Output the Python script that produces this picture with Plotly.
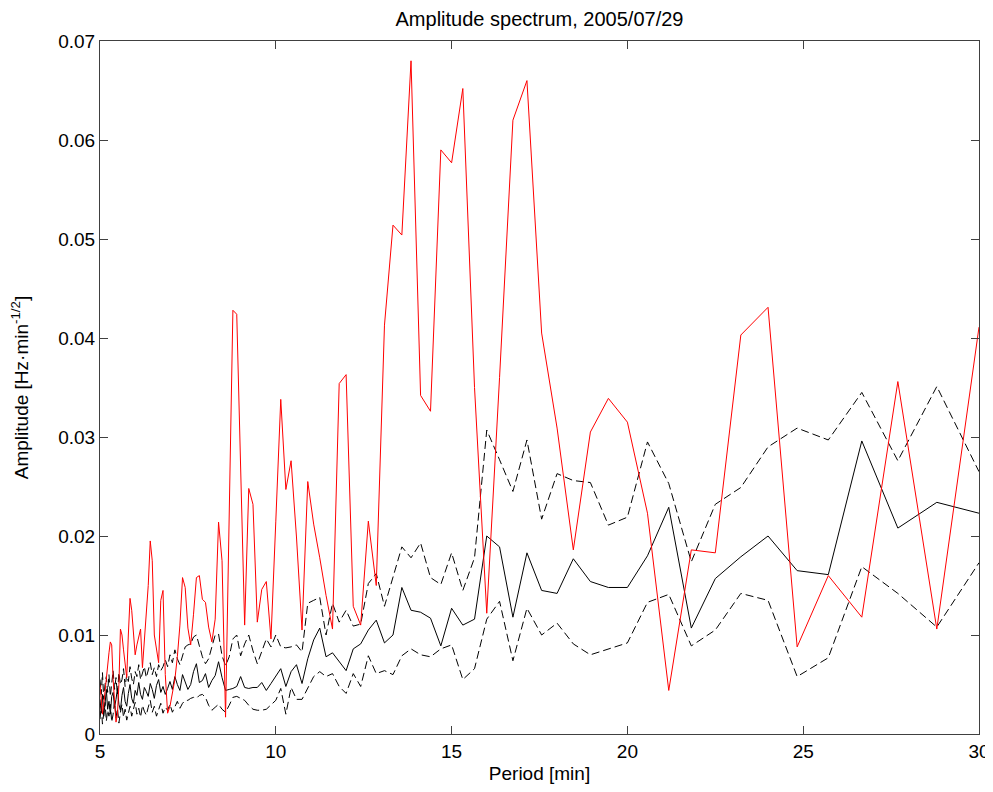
import plotly.graph_objects as go

# Period grid [min] (ascending)
period = [5.000, 5.035, 5.070, 5.106, 5.143, 5.180, 5.217, 5.255, 5.294, 5.333,
          5.373, 5.414, 5.455, 5.496, 5.538, 5.581, 5.625, 5.669, 5.714, 5.760,
          5.806, 5.854, 5.902, 5.950, 6.000, 6.050, 6.102, 6.154, 6.207, 6.261,
          6.316, 6.372, 6.429, 6.486, 6.545, 6.606, 6.667, 6.729, 6.792, 6.857,
          6.923, 6.990, 7.059, 7.129, 7.200, 7.273, 7.347, 7.423, 7.500, 7.579,
          7.660, 7.742, 7.826, 7.912, 8.000, 8.090, 8.182, 8.276, 8.372, 8.471,
          8.571, 8.675, 8.780, 8.889, 9.000, 9.114, 9.231, 9.351, 9.474, 9.600,
          9.730, 9.863, 10.000, 10.141, 10.286, 10.435, 10.588, 10.746, 10.909, 11.077,
          11.250, 11.429, 11.613, 11.803, 12.000, 12.203, 12.414, 12.632, 12.857, 13.091,
          13.333, 13.585, 13.846, 14.118, 14.400, 14.694, 15.000, 15.319, 15.652, 16.000,
          16.364, 16.744, 17.143, 17.561, 18.000, 18.462, 18.947, 19.459, 20.000, 20.571,
          21.176, 21.818, 22.500, 23.226, 24.000, 24.828, 25.714, 26.667, 27.692, 28.800,
          30.000]

# Observed amplitude spectrum (red)
amp_observed = [0.0050, 0.0030, 0.0020, 0.0030, 0.0044, 0.0055, 0.0070, 0.0082, 0.0093, 0.0090,
                0.0055, 0.0035, 0.0012, 0.0020, 0.0050, 0.0106, 0.0100, 0.0085, 0.0070, 0.0057,
                0.0100, 0.0137, 0.0125, 0.0105, 0.0080, 0.0090, 0.0098, 0.0106, 0.0067, 0.0095,
                0.0128, 0.0150, 0.0195, 0.0175, 0.0100, 0.0085, 0.0072, 0.0135, 0.0145, 0.0060,
                0.0021, 0.0028, 0.0040, 0.0055, 0.0078, 0.0110, 0.0158, 0.0148, 0.0107, 0.0090,
                0.0121, 0.0158, 0.0160, 0.0136, 0.0133, 0.0108, 0.0093, 0.0116, 0.0214, 0.0175,
                0.0017, 0.0220, 0.0428, 0.0424, 0.0260, 0.0110, 0.0248, 0.0232, 0.0113, 0.0146,
                0.0154, 0.0096, 0.0215, 0.0338, 0.0247, 0.0276, 0.0199, 0.0105, 0.0255, 0.0212,
                0.0178, 0.0140, 0.0106, 0.0354, 0.0363, 0.0129, 0.0110, 0.0215, 0.0150, 0.0413,
                0.0514, 0.0504, 0.0680, 0.0342, 0.0326, 0.0590, 0.0577, 0.0652, 0.0350, 0.0122,
                0.0360, 0.0620, 0.0660, 0.0405, 0.0309, 0.0186, 0.0305, 0.0339, 0.0315, 0.0223,
                0.0044, 0.0186, 0.0183, 0.0403, 0.0431, 0.0088, 0.0160, 0.0118, 0.0356, 0.0106,
                0.0411]

# Mean spectrum (black solid)
amp_mean = [0.0035, 0.0022, 0.0040, 0.0018, 0.0030, 0.0045, 0.0025, 0.0033, 0.0020, 0.0038,
            0.0042, 0.0027, 0.0035, 0.0046, 0.0030, 0.0024, 0.0039, 0.0047, 0.0033, 0.0028,
            0.0041, 0.0050, 0.0036, 0.0031, 0.0044, 0.0039, 0.0052, 0.0040, 0.0035, 0.0047,
            0.0043, 0.0038, 0.0051, 0.0045, 0.0036, 0.0049, 0.0055, 0.0042, 0.0048, 0.0040,
            0.0046, 0.0053, 0.0045, 0.0058, 0.0050, 0.0044, 0.0060, 0.0052,
            0.0045, 0.0050,
            0.0063, 0.0071, 0.0052, 0.0054, 0.0061, 0.0047, 0.0054, 0.0059, 0.0073, 0.0057,
            0.0044, 0.0045, 0.0046, 0.0048, 0.0058, 0.0047, 0.0046, 0.0047, 0.0047, 0.0052,
            0.0044, 0.0051, 0.0058, 0.0066, 0.0048, 0.0063, 0.0070, 0.0051, 0.0076, 0.0095,
            0.0107, 0.0078, 0.0082, 0.0073, 0.0064, 0.0086, 0.0091, 0.0105, 0.0115, 0.0092,
            0.0100, 0.0148, 0.0125, 0.0123, 0.0117, 0.0089, 0.0127, 0.0110, 0.0116, 0.0200,
            0.0189, 0.0118, 0.0183, 0.0145, 0.0142, 0.0177, 0.0154, 0.0148, 0.0148, 0.0180,
            0.0229, 0.0107, 0.0157, 0.0179, 0.0200, 0.0165, 0.0161, 0.0296, 0.0208, 0.0234,
            0.0223]

# Upper bound (black dashed)
amp_upper = [0.0055, 0.0040, 0.0062, 0.0035, 0.0050, 0.0058, 0.0042, 0.0060, 0.0038, 0.0052,
             0.0064, 0.0045, 0.0057, 0.0040, 0.0062, 0.0050, 0.0055, 0.0066, 0.0048, 0.0060,
             0.0053, 0.0068, 0.0056, 0.0050, 0.0063, 0.0058, 0.0070, 0.0055, 0.0062, 0.0068,
             0.0057, 0.0065, 0.0072, 0.0060, 0.0067, 0.0058, 0.0070, 0.0064, 0.0068, 0.0075,
             0.0068, 0.0080, 0.0072, 0.0085, 0.0076, 0.0070, 0.0080, 0.0088,
             0.0090, 0.0091,
             0.0098, 0.0100, 0.0089, 0.0078, 0.0071, 0.0076, 0.0088, 0.0100, 0.0101, 0.0079,
             0.0069, 0.0078, 0.0096, 0.0100, 0.0079, 0.0091, 0.0100, 0.0084, 0.0071, 0.0083,
             0.0096, 0.0088, 0.0100, 0.0088, 0.0087, 0.0088, 0.0090, 0.0083, 0.0132, 0.0135,
             0.0138, 0.0100, 0.0132, 0.0113, 0.0125, 0.0109, 0.0111, 0.0152, 0.0162, 0.0129,
             0.0158, 0.0189, 0.0178, 0.0193, 0.0158, 0.0151, 0.0183, 0.0145, 0.0178, 0.0307,
             0.0277, 0.0245, 0.0297, 0.0217, 0.0263, 0.0256, 0.0254, 0.0211, 0.0219, 0.0295,
             0.0253, 0.0174, 0.0232, 0.0249, 0.0290, 0.0309, 0.0297, 0.0345, 0.0276, 0.0351,
             0.0265]

# Lower bound (black dashed)
amp_lower = [0.0015, 0.0028, 0.0010, 0.0022, 0.0032, 0.0013, 0.0024, 0.0018, 0.0030, 0.0012,
             0.0020, 0.0033, 0.0016, 0.0026, 0.0011, 0.0022, 0.0030, 0.0017, 0.0025, 0.0014,
             0.0021, 0.0028, 0.0018, 0.0024, 0.0032, 0.0020, 0.0026, 0.0017, 0.0029, 0.0023,
             0.0019, 0.0027, 0.0034, 0.0022, 0.0028, 0.0018, 0.0025, 0.0031, 0.0021, 0.0027,
             0.0024, 0.0030, 0.0022, 0.0028, 0.0033, 0.0026, 0.0031, 0.0034,
             0.0034, 0.0036,
             0.0037, 0.0036, 0.0039, 0.0040, 0.0037, 0.0029, 0.0024, 0.0027, 0.0030, 0.0025,
             0.0022, 0.0029, 0.0037, 0.0038, 0.0036, 0.0034, 0.0029, 0.0025, 0.0024, 0.0024,
             0.0025, 0.0029, 0.0034, 0.0046, 0.0020, 0.0047, 0.0035, 0.0035, 0.0047, 0.0058,
             0.0063, 0.0058, 0.0061, 0.0048, 0.0041, 0.0061, 0.0048, 0.0079, 0.0061, 0.0064,
             0.0060, 0.0079, 0.0086, 0.0080, 0.0078, 0.0086, 0.0090, 0.0055, 0.0066, 0.0116,
             0.0134, 0.0074, 0.0127, 0.0100, 0.0112, 0.0091, 0.0080, 0.0086, 0.0092, 0.0133,
             0.0141, 0.0089, 0.0105, 0.0142, 0.0135, 0.0058, 0.0077, 0.0169, 0.0142, 0.0108,
             0.0173]

assert len(period) == len(amp_observed) == len(amp_mean) == len(amp_upper) == len(amp_lower)

x_ticks = [5, 10, 15, 20, 25, 30]
y_ticks = [0, 0.01, 0.02, 0.03, 0.04, 0.05, 0.06, 0.07]
y_ticktext = ["0", "0.01", "0.02", "0.03", "0.04", "0.05", "0.06", "0.07"]

FONT = "Liberation Sans, Arial, Helvetica, sans-serif"

fig = go.Figure()
fig.add_trace(go.Scatter(x=period, y=amp_upper, mode="lines",
                         line=dict(color="#000000", width=1, dash="8px,4px")))
fig.add_trace(go.Scatter(x=period, y=amp_lower, mode="lines",
                         line=dict(color="#000000", width=1, dash="8px,4px")))
fig.add_trace(go.Scatter(x=period, y=amp_mean, mode="lines",
                         line=dict(color="#000000", width=1)))
fig.add_trace(go.Scatter(x=period, y=amp_observed, mode="lines",
                         line=dict(color="#ff0000", width=1)))

axis_common = dict(showline=True, linecolor="#404040", linewidth=1, mirror="ticks",
                   ticks="inside", ticklen=8, tickcolor="#404040", showgrid=False,
                   zeroline=False, automargin=False,
                   tickfont=dict(family=FONT, size=19, color="#000000"))

# The page body has an 8px margin; the figure is offset by it and sized to fit.
W, H = 985, 776
fig.update_layout(
    width=W, height=H,
    margin=dict(l=92, r=14, t=33, b=50),
    paper_bgcolor="white", plot_bgcolor="white",
    showlegend=False,
    font=dict(family=FONT, size=19, color="#000000"),
    title=dict(text="Amplitude spectrum, 2005/07/29", x=0.5, xref="paper",
               xanchor="center", y=1 - 11 / H, yref="container", yanchor="middle",
               font=dict(family=FONT, size=20, color="#000000")),
    xaxis=dict(range=[5, 30], tickvals=x_ticks, ticktext=[str(v) for v in x_ticks],
               title=dict(text="Period [min]", font=dict(family=FONT, size=19), standoff=11),
               **axis_common),
    yaxis=dict(range=[0, 0.07], tickvals=y_ticks, ticktext=y_ticktext,
               title=dict(text="Amplitude [Hz·min<sup>-1/2</sup>]",
                          font=dict(family=FONT, size=19), standoff=24),
               **axis_common),
)

fig.write_html("out.html")
